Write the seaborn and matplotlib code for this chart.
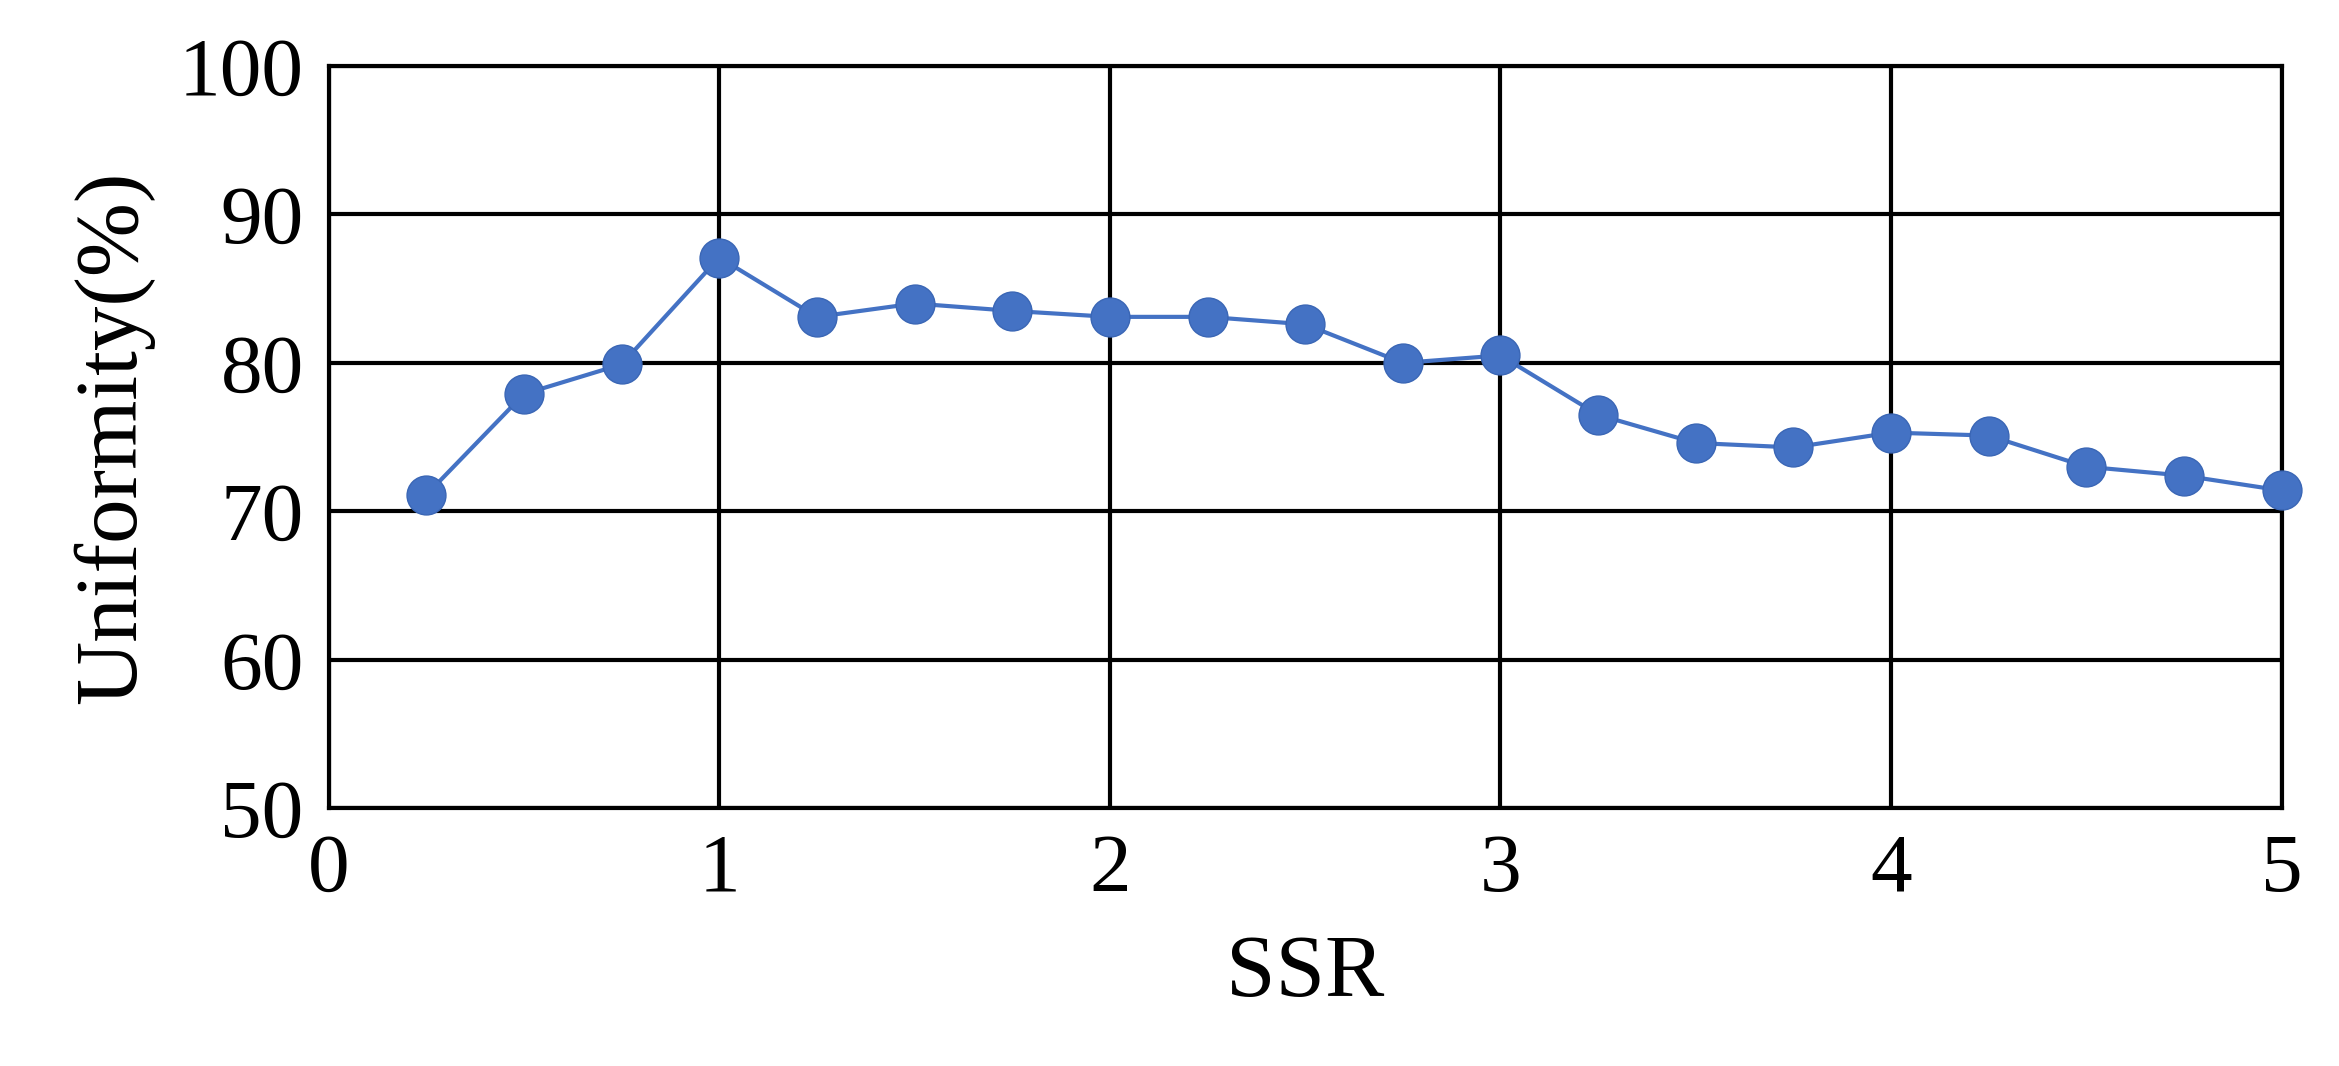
import matplotlib
matplotlib.use("Agg")
import matplotlib.pyplot as plt
import seaborn as sns
import pandas as pd

ssr = [0.25, 0.5, 0.75, 1.0, 1.25, 1.5, 1.75, 2.0, 2.25, 2.5,
       2.75, 3.0, 3.25, 3.5, 3.75, 4.0, 4.25, 4.5, 4.75, 5.0]
uniformity = [71.1, 77.9, 79.9, 87.1, 83.1, 84.0, 83.5, 83.1, 83.1, 82.6,
              80.0, 80.5, 76.5, 74.6, 74.3, 75.3, 75.1, 73.0, 72.4, 71.4]
x_ticks = [0, 1, 2, 3, 4, 5]
y_ticks = [50, 60, 70, 80, 90, 100]

df = pd.DataFrame({"SSR": ssr, "Uniformity": uniformity})

sns.set_style("white")
plt.rcParams['font.family'] = ['Liberation Serif', 'DejaVu Serif']

fig = plt.figure(figsize=(23.39, 10.66), dpi=100)
ax = fig.add_axes([0.1405, 0.242, 0.835, 0.696])
sns.lineplot(data=df, x="SSR", y="Uniformity", ax=ax, color="#4472C4",
             linewidth=3, marker="o", markersize=28, markeredgecolor="#3a66b5",
             markeredgewidth=1, zorder=3, clip_on=False)
ax.set_xlim(0, 5)
ax.set_ylim(50, 100)
ax.set_xticks(x_ticks)
ax.set_yticks(y_ticks)
ax.grid(True, color="black", linewidth=3)
for s in ax.spines.values():
    s.set_color("black")
    s.set_linewidth(3)
ax.tick_params(labelsize=60, length=0, pad=18, labelcolor="black")
ax.set_xlabel("SSR", fontsize=64, labelpad=18, color="black")
ax.set_ylabel("Uniformity(%)", fontsize=64, labelpad=18, color="black")
fig.savefig("out.png", dpi=100, facecolor="white")
